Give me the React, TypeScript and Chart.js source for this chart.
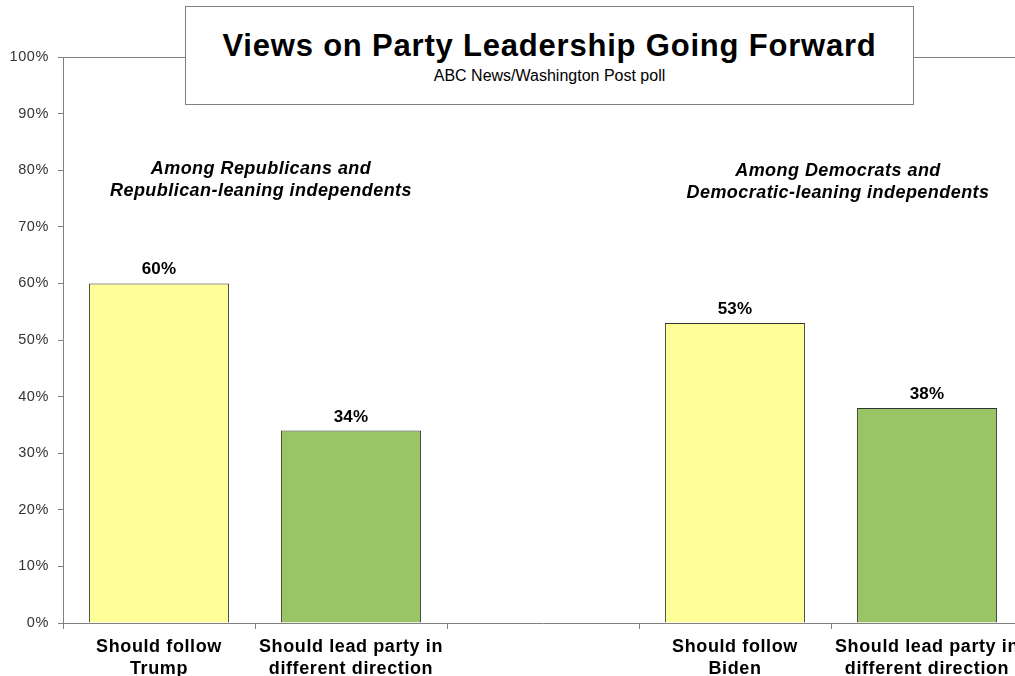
import React, { useEffect, useRef } from "react";
import { Chart, registerables } from "chart.js";

Chart.register(...registerables);

const categories: (string | string[])[] = [
  ["Should follow", "Trump"],
  ["Should lead party in", "different direction"],
  "",
  ["Should follow", "Biden"],
  ["Should lead party in", "different direction"],
];
const values: (number | null)[] = [60, 34, null, 53, 38];
const barColors = ["#FFFF99", "#99C566", "#FFFFFF", "#FFFF99", "#99C566"];
const yTicks = [0, 10, 20, 30, 40, 50, 60, 70, 80, 90, 100];
const titleText = "Views on Party Leadership Going Forward";
const subtitleText = "ABC News/Washington Post poll";
const leftNote = ["Among Republicans and", "Republican-leaning independents"];
const rightNote = ["Among Democrats and", "Democratic-leaning independents"];

const FONT = "'Liberation Sans', Arial, Helvetica, sans-serif";

const spacingPlugin = {
  id: "spacing",
  beforeDraw(chart: any) {
    chart.ctx.letterSpacing = "0.6px";
  },
  afterDraw(chart: any) {
    chart.ctx.letterSpacing = "0px";
  },
};

const labelPlugin = {
  id: "valueLabels",
  afterDatasetsDraw(chart: any) {
    const ctx = chart.ctx;
    const meta = chart.getDatasetMeta(0);
    ctx.save();
    ctx.letterSpacing = "0.2px";
    ctx.font = `bold 17px ${FONT}`;
    ctx.fillStyle = "#000";
    ctx.textAlign = "center";
    ctx.textBaseline = "alphabetic";
    meta.data.forEach((bar: any, i: number) => {
      const v = values[i];
      if (v == null) return;
      ctx.fillText(`${v}%`, bar.x, bar.y - 9);
    });
    ctx.restore();
  },
};

const topBorderPlugin = {
  id: "topBorder",
  afterDraw(chart: any) {
    const { ctx, chartArea } = chart;
    ctx.save();
    ctx.strokeStyle = "#808080";
    ctx.lineWidth = 1;
    ctx.beginPath();
    ctx.moveTo(chartArea.left, Math.round(chartArea.top) + 0.5);
    ctx.lineTo(chartArea.right, Math.round(chartArea.top) + 0.5);
    ctx.stroke();
    ctx.restore();
  },
};

export default function App() {
  const ref = useRef<HTMLCanvasElement | null>(null);
  useEffect(() => {
    document.body.style.margin = "0";
    document.body.style.overflow = "hidden";
    const chart = new Chart(ref.current as HTMLCanvasElement, {
      type: "bar",
      data: {
        labels: categories as any,
        datasets: [
          {
            data: values,
            backgroundColor: barColors,
            borderColor: "#333333",
            borderWidth: 1,
            barPercentage: 0.73,
            categoryPercentage: 1,
          },
        ],
      },
      options: {
        responsive: false,
        animation: false,
        layout: { padding: { left: 0, top: 57, right: 7, bottom: 0 } },
        plugins: {
          legend: { display: false },
          tooltip: { enabled: false },
          title: { display: false },
        },
        scales: {
          x: {
            offset: true,
            grid: {
              offset: true,
              drawOnChartArea: false,
              drawTicks: true,
              tickLength: 6,
              color: "#808080",
            },
            border: { display: true, color: "#808080", width: 1 },
            ticks: {
              color: "#000",
              font: { family: FONT, size: 18, weight: "bold", lineHeight: 1.222 },
              padding: 7,
              maxRotation: 0,
              autoSkip: false,
            },
            afterFit(scale: any) {
              scale.height = 53;
            },
          },
          y: {
            min: 0,
            max: 100,
            afterBuildTicks(scale: any) {
              scale.ticks = yTicks.map((v) => ({ value: v }));
            },
            grid: {
              drawOnChartArea: false,
              drawTicks: true,
              tickLength: 5,
              color: "#808080",
            },
            border: { display: true, color: "#808080", width: 1 },
            ticks: {
              color: "#333",
              font: { family: FONT, size: 14.5 },
              padding: 9,
              callback: (v: any) => `${v}%`,
            },
            afterFit(scale: any) {
              scale.width = 63;
            },
          },
        },
      },
      plugins: [spacingPlugin, labelPlugin, topBorderPlugin],
    } as any);
    return () => chart.destroy();
  }, []);

  const noteStyle = (cx: number, top: number): React.CSSProperties => ({
    position: "absolute",
    left: cx - 220,
    width: 440,
    top,
    textAlign: "center",
    fontFamily: FONT,
    fontWeight: "bold",
    fontStyle: "italic",
    fontSize: 18,
    letterSpacing: "0.45px",
    lineHeight: "22px",
    color: "#000",
  });

  return (
    <div style={{ position: "relative", width: 1015, height: 676, overflow: "hidden", background: "#fff" }}>
      <canvas ref={ref} width={1030} height={676} style={{ position: "absolute", left: 0, top: 0 }} />
      <div
        style={{
          position: "absolute",
          left: 185,
          top: 6,
          width: 729,
          height: 99,
          boxSizing: "border-box",
          border: "1px solid #808080",
          background: "#fff",
          fontFamily: FONT,
          textAlign: "center",
          color: "#000",
        }}
      >
        <div
          style={{
            position: "absolute",
            left: 0,
            right: 0,
            top: 24,
            fontSize: 31,
            fontWeight: "bold",
            letterSpacing: "0.8px",
            lineHeight: "30px",
          }}
        >
          {titleText}
        </div>
        <div style={{ position: "absolute", left: 0, right: 0, top: 61, fontSize: 16, lineHeight: "16px" }}>
          {subtitleText}
        </div>
      </div>
      <div style={noteStyle(261, 157)}>
        {leftNote[0]}
        <br />
        {leftNote[1]}
      </div>
      <div style={noteStyle(838, 159)}>
        {rightNote[0]}
        <br />
        {rightNote[1]}
      </div>
    </div>
  );
}
